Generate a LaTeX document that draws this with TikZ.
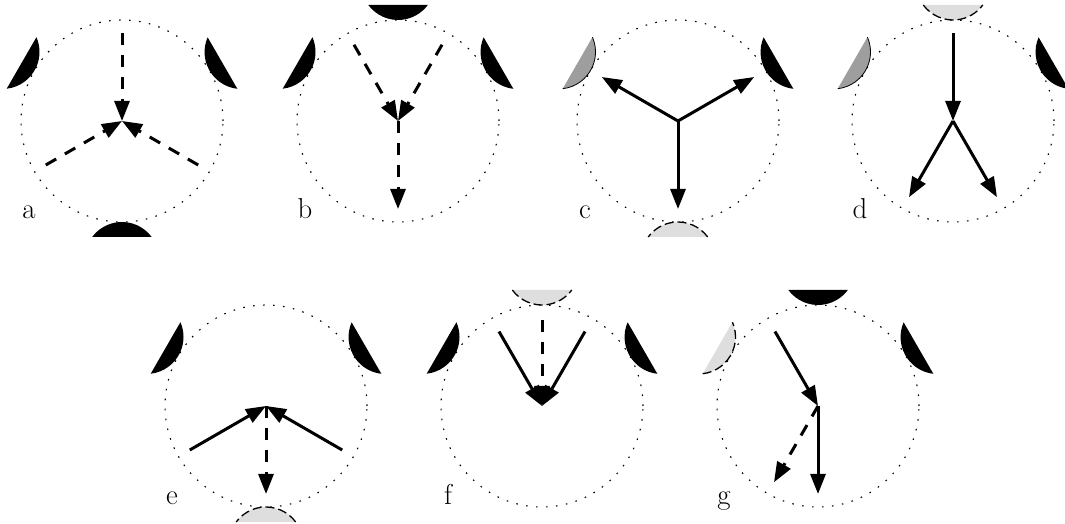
\documentclass[tikz,border=0pt]{standalone}
\usepackage{fontspec}
\usetikzlibrary{arrows.meta}
\tikzset{
  ring/.style={draw, circle, inner sep=0pt, minimum size=202pt, line width=1.1pt, dash pattern=on 1.6pt off 8.4pt},
  solidarrow/.style={line width=3pt, -{Triangle[length=20pt,width=15pt]}},
  dasharrow/.style={solidarrow, dash pattern=on 12pt off 10pt},
  lbl/.style={anchor=base, inner sep=0pt, font=\fontsize{28.8}{30}\selectfont},
  capblack/.pic={\fill[black] (116,29.7) arc[start angle=126.5, end angle=233.5, radius=37] -- cycle;},
  capgray/.pic={\fill[black!38] (116,29.7) arc[start angle=126.5, end angle=233.5, radius=37] -- cycle;
                \draw[line width=0.8pt] (116,29.7) arc[start angle=126.5, end angle=233.5, radius=37];},
  caplight/.pic={\fill[black!13] (116,29.7) arc[start angle=126.5, end angle=233.5, radius=37] -- cycle;
                \draw[line width=1.3pt, dash pattern=on 9pt off 4pt] (116,29.7) arc[start angle=126.5, end angle=233.5, radius=37];},
}
\begin{document}
\begin{tikzpicture}[x=1pt,y=1pt]
\useasboundingbox (0,0) rectangle (1065,524);
% panel a
\begin{scope}[shift={(122,403)}]
  \node[ring] (ca) at (0,0) {};
  \pic[rotate=150] at (0,0) {capblack};
  \pic[rotate=30] at (0,0) {capblack};
  \pic[rotate=270] at (0,0) {capblack};
  \coordinate (a0) at (0,0);
  \coordinate (a1) at (90:88);
  \coordinate (a2) at (210:88);
  \coordinate (a3) at (330:88);
  \draw[dasharrow] (a1) -- (a0);
  \draw[dasharrow] (a2) -- (a0);
  \draw[dasharrow] (a3) -- (a0);
  \node[lbl] (la) at (-93,-98) {a};
\end{scope}
% panel b
\begin{scope}[shift={(398,403)}]
  \node[ring] (cb) at (0,0) {};
  \pic[rotate=150] at (0,0) {capblack};
  \pic[rotate=30] at (0,0) {capblack};
  \pic[rotate=90] at (0,0) {capblack};
  \coordinate (b0) at (0,0);
  \coordinate (b1) at (120:88);
  \coordinate (b2) at (60:88);
  \coordinate (b3) at (270:88);
  \draw[dasharrow] (b1) -- (b0);
  \draw[dasharrow] (b2) -- (b0);
  \draw[dasharrow] (b0) -- (b3);
  \node[lbl] (lb) at (-93,-98) {b};
\end{scope}
% panel c
\begin{scope}[shift={(678,403)}]
  \node[ring] (cc) at (0,0) {};
  \pic[rotate=150] at (0,0) {capgray};
  \pic[rotate=30] at (0,0) {capblack};
  \pic[rotate=270] at (0,0) {caplight};
  \coordinate (c0) at (0,0);
  \coordinate (c1) at (150:88);
  \coordinate (c2) at (30:88);
  \coordinate (c3) at (270:88);
  \draw[solidarrow] (c0) -- (c1);
  \draw[solidarrow] (c0) -- (c2);
  \draw[solidarrow] (c0) -- (c3);
  \node[lbl] (lc) at (-93,-98) {c};
\end{scope}
% panel d
\begin{scope}[shift={(953,403)}]
  \node[ring] (cd) at (0,0) {};
  \pic[rotate=150] at (0,0) {capgray};
  \pic[rotate=30] at (0,0) {capblack};
  \pic[rotate=90] at (0,0) {caplight};
  \coordinate (d0) at (0,0);
  \coordinate (d1) at (90:88);
  \coordinate (d2) at (240:88);
  \coordinate (d3) at (300:88);
  \draw[solidarrow] (d1) -- (d0);
  \draw[solidarrow] (d0) -- (d2);
  \draw[solidarrow] (d0) -- (d3);
  \node[lbl] (ld) at (-93,-98) {d};
\end{scope}
% panel e
\begin{scope}[shift={(266,118)}]
  \node[ring] (ce) at (0,0) {};
  \pic[rotate=150] at (0,0) {capblack};
  \pic[rotate=30] at (0,0) {capblack};
  \pic[rotate=270] at (0,0) {caplight};
  \coordinate (e0) at (0,0);
  \coordinate (e1) at (210:88);
  \coordinate (e2) at (330:88);
  \coordinate (e3) at (270:88);
  \draw[solidarrow] (e1) -- (e0);
  \draw[solidarrow] (e2) -- (e0);
  \draw[dasharrow] (e0) -- (e3);
  \node[lbl] (le) at (-94,-99) {e};
\end{scope}
% panel f
\begin{scope}[shift={(542,118)}]
  \node[ring] (cf) at (0,0) {};
  \pic[rotate=150] at (0,0) {capblack};
  \pic[rotate=30] at (0,0) {capblack};
  \pic[rotate=90] at (0,0) {caplight};
  \coordinate (f0) at (0,0);
  \coordinate (f1) at (90:86);
  \coordinate (f2) at (120:86);
  \coordinate (f3) at (60:86);
  \draw[dasharrow] (f1) -- (f0);
  \draw[solidarrow] (f2) -- (f0);
  \draw[solidarrow] (f3) -- (f0);
  \node[lbl] (lf) at (-94,-99) {f};
\end{scope}
% panel g
\begin{scope}[shift={(818,118)}]
  \node[ring] (cg) at (0,0) {};
  \pic[rotate=150] at (0,0) {caplight};
  \pic[rotate=30] at (0,0) {capblack};
  \pic[rotate=90] at (0,0) {capblack};
  \coordinate (g0) at (0,0);
  \coordinate (g1) at (120:86);
  \coordinate (g2) at (270:88);
  \coordinate (g3) at (240:88);
  \draw[solidarrow] (g1) -- (g0);
  \draw[solidarrow] (g0) -- (g2);
  \draw[dasharrow] (g0) -- (g3);
  \node[lbl] (lg) at (-94,-99) {g};
\end{scope}
\end{tikzpicture}
\end{document}
